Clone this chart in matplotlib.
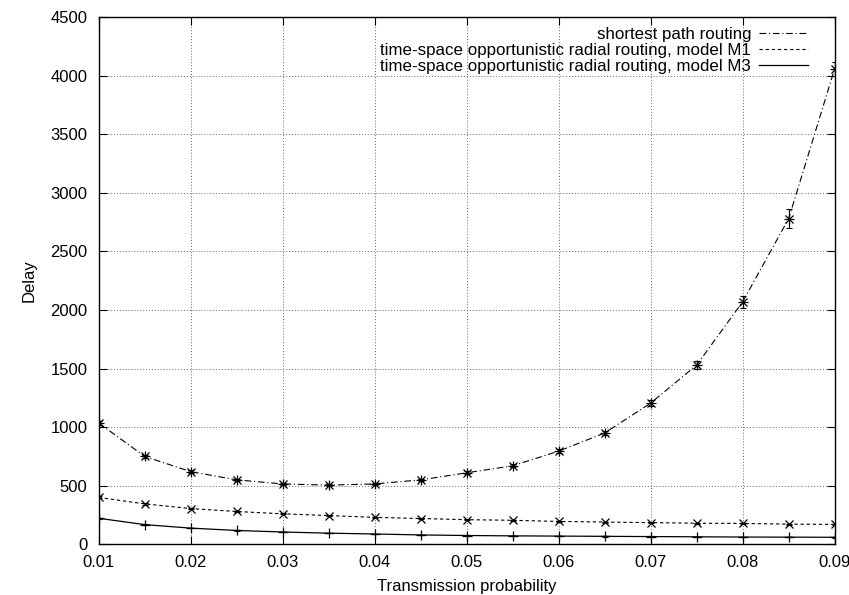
import matplotlib
matplotlib.use("Agg")
import matplotlib.pyplot as plt

plt.rcParams['font.family'] = ['Liberation Sans', 'DejaVu Sans']

x = [0.01, 0.015, 0.02, 0.025, 0.03, 0.035, 0.04, 0.045, 0.05,
     0.055, 0.06, 0.065, 0.07, 0.075, 0.08, 0.085, 0.09]
shortest = [1035, 750, 620, 550, 515, 505, 515, 550, 610,
            670, 795, 950, 1205, 1530, 2070, 2780, 4060]
shortest_err = [20, 15, 10, 10, 10, 10, 10, 10, 12,
                12, 15, 20, 25, 35, 50, 80, 60]
m1 = [400, 345, 305, 280, 260, 245, 230, 220, 210,
      205, 195, 190, 185, 180, 178, 172, 170]
m1_err = [8, 6, 5, 5, 5, 4, 4, 4, 4, 4, 4, 4, 4, 4, 4, 4, 4]
m3 = [222, 168, 138, 118, 105, 95, 88, 80, 75,
      72, 70, 68, 66, 64, 62, 61, 60]
m3_err = [4, 3, 3, 3, 2, 2, 2, 2, 2, 2, 2, 2, 2, 2, 2, 2, 2]

labels = ["shortest path routing",
          "time-space opportunistic radial routing, model M1",
          "time-space opportunistic radial routing, model M3"]
xticks = [0.01, 0.02, 0.03, 0.04, 0.05, 0.06, 0.07, 0.08, 0.09]
yticks = [0, 500, 1000, 1500, 2000, 2500, 3000, 3500, 4000, 4500]

fig = plt.figure(figsize=(8.49, 5.95), dpi=100)
ax = fig.add_axes([98.7 / 849, 1 - 544.3 / 595, (834.7 - 98.7) / 849, (544.3 - 17) / 595])

ax.plot(x, shortest, color='black', lw=0.8, ls=(0, (6, 2.5, 1, 2.5)), label=labels[0])
ax.plot(x, m1, color='black', lw=0.8, ls=(0, (3, 2.5)), label=labels[1])
ax.plot(x, m3, color='black', lw=0.9, ls='-', label=labels[2])

ax.errorbar(x, shortest, yerr=shortest_err, fmt='none', ecolor='black', elinewidth=0.8, capsize=2.5, capthick=0.8)
ax.plot(x, shortest, ls='none', marker='x', ms=6, mew=0.9, color='black')
ax.plot(x, shortest, ls='none', marker='+', ms=6.5, mew=0.9, color='black')
ax.errorbar(x, m1, yerr=m1_err, fmt='none', ecolor='black', elinewidth=0.8, capsize=2.5, capthick=0.8)
ax.plot(x, m1, ls='none', marker='x', ms=6, mew=0.9, color='black')
ax.errorbar(x, m3, yerr=m3_err, fmt='none', ecolor='black', elinewidth=0.8, capsize=2.5, capthick=0.8)
ax.plot(x, m3, ls='none', marker='+', ms=6.5, mew=0.9, color='black')

ax.set_xlim(0.01, 0.09)
ax.set_ylim(0, 4500)
ax.set_xticks(xticks)
ax.set_xticklabels([f"{v:g}" for v in xticks])
ax.set_yticks(yticks)
ax.set_yticklabels([str(v) for v in yticks])
ax.tick_params(direction='in', top=True, right=True, length=6, width=0.8, labelsize=12, pad=8, colors='black')
for s in ax.spines.values():
    s.set_linewidth(1.0)
    s.set_color('black')
ax.grid(True, color='#666666', ls=(0, (1, 2)), lw=0.7)
ax.set_axisbelow(True)

ax.set_xlabel("Transmission probability", fontsize=12, labelpad=6)
ax.set_ylabel("Delay", fontsize=12, labelpad=10)

leg = ax.legend(loc='upper right', frameon=False, markerfirst=False, fontsize=12.2,
                handlelength=2.9, handletextpad=0.45, labelspacing=0.06,
                borderaxespad=0.0, borderpad=0.0,
                bbox_to_anchor=((808 - 98.7) / 736, 1 - (26.5 - 17) / 527.3))

fig.savefig("out.png", dpi=100)
